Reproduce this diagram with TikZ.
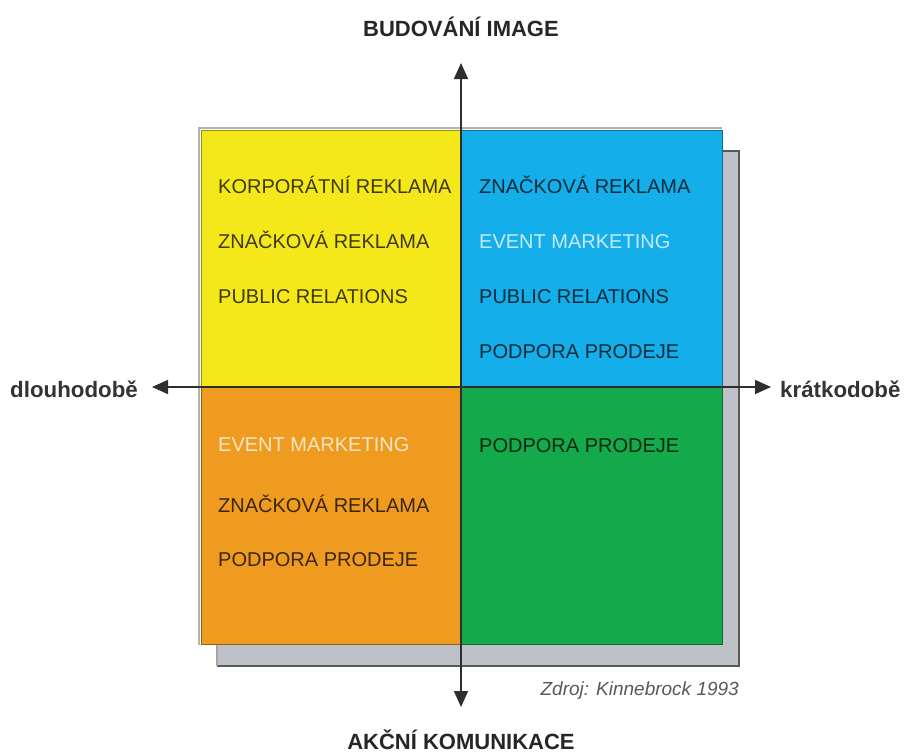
\documentclass[tikz,border=0pt]{standalone}
\usepackage{fontspec}
\setmainfont{Liberation Sans}
\usetikzlibrary{arrows.meta}
\definecolor{qyellow}{HTML}{F5E81A}
\definecolor{qblue}{HTML}{14AFEA}
\definecolor{qorange}{HTML}{EF9B1F}
\definecolor{qgreen}{HTML}{14A94A}
\definecolor{shadowgray}{HTML}{BFC1C8}
\definecolor{axisgray}{HTML}{2E2E2E}
\tikzset{
  quad/.style={draw=#1!62!black, fill=#1, line width=1.3pt},
  item/.style={anchor=base west, inner sep=0pt, font=\fontsize{20}{23}\selectfont, text=black, text opacity=0.75},
  itemlight/.style={item, text=white, text opacity=0.75},
  axislabel/.style={inner sep=0pt, font=\fontsize{22}{26}\selectfont\bfseries, text=black!85},
  sidelabel/.style={inner sep=0pt, font=\fontsize{22.3}{26}\selectfont\bfseries, text=black!80},
  axisline/.style={draw=axisgray, line width=1.6pt, {Triangle[length=16pt,width=14pt]}-{Triangle[length=16pt,width=14pt]}}
}
\begin{document}
\begin{tikzpicture}[x=1pt,y=-1pt]
\useasboundingbox[fill=white] (0,0) rectangle (905,753);
% shadow
\fill[shadowgray] (217,151) rectangle (739,666);
\draw[axisgray!80, line width=1.4pt] (722,151) -- (739,151) -- (739,666) -- (217,666);
\draw[gray!70, line width=1.2pt] (217,645) -- (217,666);
% quadrants
\node[quad=qyellow, minimum width=260pt, minimum height=257pt, inner sep=0pt, anchor=north west] (ql) at (201,130) {};
\node[quad=qblue, minimum width=261pt, minimum height=257pt, inner sep=0pt, anchor=north west] (qr) at (461,130) {};
\node[quad=qorange, minimum width=260pt, minimum height=257pt, inner sep=0pt, anchor=north west] (bl) at (201,387) {};
\node[quad=qgreen, minimum width=261pt, minimum height=257pt, inner sep=0pt, anchor=north west] (br) at (461,387) {};
\draw[gray!60, line width=1.2pt] (199,645) -- (199,128) -- (722,128);
% texts
\node[item] (y1) at (218,193) {KORPORÁTNÍ REKLAMA};
\node[item] (y2) at (218,248) {ZNAČKOVÁ REKLAMA};
\node[item] (y3) at (218,303) {PUBLIC RELATIONS};
\node[item] (b1) at (479,193) {ZNAČKOVÁ REKLAMA};
\node[itemlight] (b2) at (479,248) {EVENT MARKETING};
\node[item] (b3) at (479,303) {PUBLIC RELATIONS};
\node[item] (b4) at (479,358) {PODPORA PRODEJE};
\node[itemlight] (o1) at (218,451) {EVENT MARKETING};
\node[item] (o2) at (218,512) {ZNAČKOVÁ REKLAMA};
\node[item] (o3) at (218,566) {PODPORA PRODEJE};
\node[item] (g1) at (479,452) {PODPORA PRODEJE};
% axis labels
\node[axislabel] (top) at (461,27) {BUDOVÁNÍ IMAGE};
\node[axislabel] (bottom) at (461,740) {AKČNÍ KOMUNIKACE};
\node[sidelabel, anchor=west] (left) at (10,389) {dlouhodobě};
\node[sidelabel, anchor=west] (right) at (780,389) {krátkodobě};
\node[inner sep=0pt, anchor=east, font=\fontsize{19}{22}\selectfont\itshape, text=black!65] (src) at (739,691) {Zdroj: Kinnebrock 1993};
% axes
\coordinate (vt) at (461,63);
\coordinate (vb) at (461,707);
\coordinate (hl) at (152,387);
\coordinate (hr) at (771,387);
\draw[axisline] (vt) -- (vb);
\draw[axisline] (hl) -- (hr);
\end{tikzpicture}
\end{document}
